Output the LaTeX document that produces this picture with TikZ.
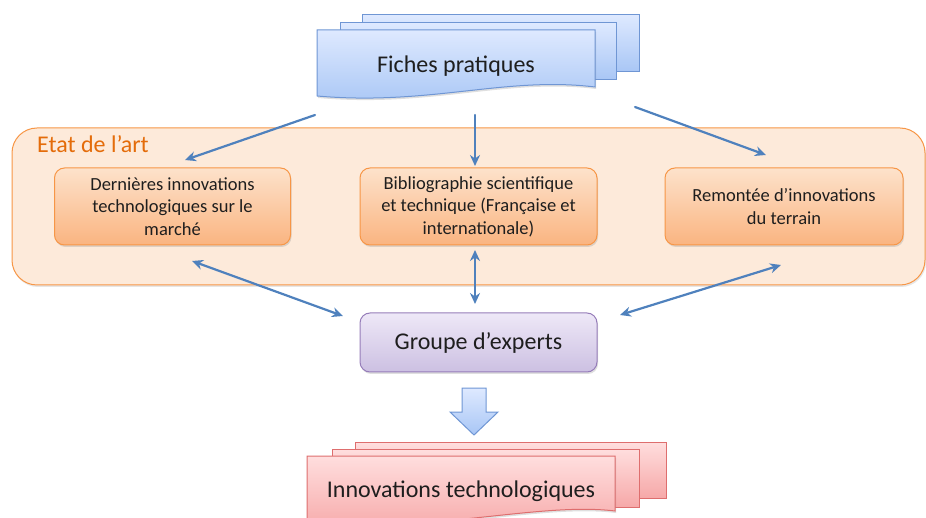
\documentclass[tikz,border=0pt]{standalone}
\usepackage{fontspec}
\setmainfont{Carlito}
\usetikzlibrary{arrows.meta,shadows}

\begin{document}
\begin{tikzpicture}[x=1pt,y=-1pt,line cap=round,
  flowarrow/.style={line width=2.2pt, custcol_blue_line, -{Stealth[length=11pt,width=10pt]}},
  flowboth/.style={line width=2.2pt, custcol_blue_line, {Stealth[length=11pt,width=10pt]}-{Stealth[length=11pt,width=10pt]}},
  sourcebox/.style={rounded corners=10pt, line width=1pt, draw=custcol_orange_line, top color=custcol_orange_top, bottom color=custcol_orange_bot, align=center, font=\fontsize{18.5pt}{22.5pt}\selectfont, text=custcol_text, drop shadow={opacity=0.25, shadow xshift=1pt, shadow yshift=-2pt}},
  bluesheet/.style={line width=1pt, draw=custcol_blue_edge, top color=custcol_blue_top, bottom color=custcol_blue_bot},
  pinksheet/.style={line width=1pt, draw=custcol_pink_edge, top color=custcol_pink_top, bottom color=custcol_pink_bot}]
\useasboundingbox (0,0) rectangle (926,518);
\definecolor{custcol_text}{RGB}{30, 30, 30}
\definecolor{custcol_blue_line}{RGB}{79, 129, 189}
\definecolor{custcol_blue_edge}{RGB}{111, 150, 212}
\definecolor{custcol_blue_top}{RGB}{222, 233, 255}
\definecolor{custcol_blue_bot}{RGB}{168, 198, 245}
\definecolor{custcol_orange_line}{RGB}{247, 150, 70}
\definecolor{custcol_orange_fill}{RGB}{253, 234, 218}
\definecolor{custcol_orange_top}{RGB}{253, 226, 203}
\definecolor{custcol_orange_bot}{RGB}{250, 180, 128}
\definecolor{custcol_orange_text}{RGB}{228, 108, 10}
\definecolor{custcol_purple_line}{RGB}{150, 125, 185}
\definecolor{custcol_purple_top}{RGB}{238, 232, 247}
\definecolor{custcol_purple_bot}{RGB}{204, 192, 226}
\definecolor{custcol_pink_edge}{RGB}{222, 110, 110}
\definecolor{custcol_pink_top}{RGB}{255, 222, 222}
\definecolor{custcol_pink_bot}{RGB}{246, 168, 168}
% Fiches pratiques (stacked sheets)
\shade [bluesheet]  (362.0,15.0) rectangle (639.0,72.0) ;
\shade [bluesheet]  (340.0,23.0) rectangle (616.0,80.0) ;
\shade [bluesheet, drop shadow={opacity=0.25, shadow xshift=1pt, shadow yshift=-2pt}]  (317.0,30.0) -- (595.0,30.0) -- (595.0,87.0) .. controls (505.0,76.0) and (430.0,106.0) .. (317.0,96.0) -- cycle;
\node[font=\fontsize{24pt}{24pt}\selectfont, text=custcol_text] (fiches) at (456.0,66.0) {Fiches pratiques};
% Etat de l'art frame
\node[rounded corners=25pt, line width=1pt, draw=custcol_orange_line, fill=custcol_orange_fill, minimum width=913pt, minimum height=157pt, drop shadow={opacity=0.2, shadow xshift=1pt, shadow yshift=-2pt}] (etat) at (468.5,206.5) {};
\node[font=\fontsize{24pt}{24pt}\selectfont, text=custcol_orange_text, anchor=base west, inner sep=0] (etatlabel) at (37.0,153.0) {Etat de l'art};
\node[sourcebox, minimum width=236pt, minimum height=77pt] (marche) at (172.5,206.5) {Dernières innovations\\technologiques sur le\\marché};
\node[sourcebox, minimum width=237pt, minimum height=77pt] (biblio) at (478.5,206.5) {Bibliographie scientifique\\et technique (Française et\\internationale)};
\node[sourcebox, minimum width=238pt, minimum height=77pt] (terrain) at (784.0,206.5) {Remontée d'innovations\\du terrain};
% Groupe d'experts
\node[rounded corners=10pt, line width=1pt, draw=custcol_purple_line, top color=custcol_purple_top, bottom color=custcol_purple_bot, minimum width=237pt, minimum height=59pt, font=\fontsize{24pt}{24pt}\selectfont, text=custcol_text, drop shadow={opacity=0.25, shadow xshift=1pt, shadow yshift=-2pt}] (experts) at (478.5,342.5) {Groupe d'experts};
% arrow ends
\coordinate (fichesL) at (315.0,115.0);
\coordinate (fichesM) at (475.0,115.0);
\coordinate (fichesR) at (635.0,107.0);
\coordinate (marcheT) at (185.0,160.0);
\coordinate (biblioT) at (475.0,166.0);
\coordinate (terrainT) at (766.0,155.0);
\coordinate (marcheB) at (192.0,261.0);
\coordinate (biblioB) at (475.0,250.0);
\coordinate (terrainB) at (781.0,265.0);
\coordinate (expertsL) at (343.0,316.0);
\coordinate (expertsT) at (475.0,304.0);
\coordinate (expertsR) at (620.0,315.0);
\draw [flowarrow]  (fichesL) -- (marcheT) ;
\draw [flowarrow]  (fichesM) -- (biblioT) ;
\draw [flowarrow]  (fichesR) -- (terrainT) ;
\draw [flowboth]  (marcheB) -- (expertsL) ;
\draw [flowboth]  (biblioB) -- (expertsT) ;
\draw [flowboth]  (terrainB) -- (expertsR) ;
% block arrow down
\shade [line width=1pt, draw=custcol_blue_edge, top color=custcol_blue_top, bottom color=custcol_blue_bot]  (462.0,388.0) -- (486.0,388.0) -- (486.0,412.0) -- (498.0,412.0) -- (474.0,435.0) -- (450.0,412.0) -- (462.0,412.0) -- cycle;
% Innovations technologiques (stacked sheets)
\shade [pinksheet]  (355.0,442.0) rectangle (666.0,498.0) ;
\shade [pinksheet]  (332.0,449.0) rectangle (639.0,507.0) ;
\shade [pinksheet, drop shadow={opacity=0.25, shadow xshift=1pt, shadow yshift=-2pt}]  (307.0,456.0) -- (615.0,456.0) -- (615.0,511.0) .. controls (540.0,502.0) and (440.0,532.0) .. (307.0,524.0) -- cycle;
\node[font=\fontsize{24pt}{24pt}\selectfont, text=custcol_text] (innovations) at (461.0,491.0) {Innovations technologiques};
\end{tikzpicture}
\end{document}
